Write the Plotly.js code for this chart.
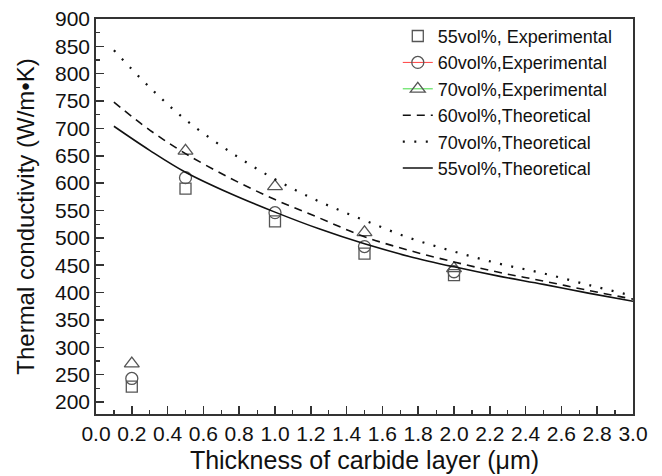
<!DOCTYPE html>
<html>
<head>
<meta charset="utf-8">
<script src="https://cdn.plot.ly/plotly-3.0.1.min.js"></script>
<style>html,body{margin:0;padding:0;background:#fff;}#chart{width:662px;height:476px;}</style>
</head>
<body>
<div id="chart"></div>
<script>
// Experimental data
var expX = [0.2, 0.5, 1.0, 1.5, 2.0];
var exp55 = [228, 590, 530, 471, 432];
var exp60 = [243, 610, 546, 484, 438];
var exp70 = [270, 659, 594, 510, 444];

// Theoretical curves
var theoX = [0.1, 0.3, 0.5, 0.75, 1.0, 1.25, 1.5, 1.75, 2.0, 2.25, 2.5, 2.75, 3.0];
var theo55 = [704, 660, 620, 581, 547, 516, 489, 466, 447, 430, 415, 399, 384];
var theo60 = [748, 697, 654, 609, 570, 536, 502, 477, 456, 437, 421, 404, 388];
var theo70 = [843, 775, 716, 657, 607, 566, 532, 500, 475, 453, 435, 414, 394];

var names = ["55vol%, Experimental", "60vol%,Experimental", "70vol%,Experimental",
             "60vol%,Theoretical", "70vol%,Theoretical", "55vol%,Theoretical"];

var mk = '#555';
var traces = [
  {x: expX, y: exp55, mode: 'markers', name: names[0], legendrank: 1,
   marker: {symbol: 'square-open', size: 11, color: mk, line: {width: 1.3}}},
  {x: expX, y: exp60, mode: 'markers', name: names[1], showlegend: false,
   marker: {symbol: 'circle-open', size: 12, color: mk, line: {width: 1.3}}},
  {x: [null], y: [null], mode: 'lines+markers', name: names[1], legendrank: 2,
   line: {color: '#ff4040', width: 1},
   marker: {symbol: 'circle-open', size: 12, color: mk, line: {width: 1.3}}},
  {x: expX, y: exp70, mode: 'markers', name: names[2], showlegend: false,
   marker: {symbol: 'triangle-up-open', size: 13, color: mk, line: {width: 1.3}}},
  {x: [null], y: [null], mode: 'lines+markers', name: names[2], legendrank: 3,
   line: {color: '#40dd40', width: 1},
   marker: {symbol: 'triangle-up-open', size: 13, color: mk, line: {width: 1.3}}},
  {x: theoX, y: theo60, mode: 'lines', name: names[3], legendrank: 4,
   line: {color: '#111', width: 1.6, dash: '8px,6px', shape: 'spline'}},
  {x: theoX, y: theo70, mode: 'lines', name: names[4], legendrank: 5,
   line: {color: '#111', width: 2.2, dash: '2px,9.5px', shape: 'spline'}},
  {x: theoX, y: theo55, mode: 'lines', name: names[5], legendrank: 6,
   line: {color: '#111', width: 1.6, shape: 'spline'}}
];

var axisCol = '#333';
var layout = {
  width: 662, height: 476,
  margin: {l: 96, r: 29, t: 19, b: 62},
  paper_bgcolor: '#fff', plot_bgcolor: '#fff',
  font: {family: '"Liberation Sans", Arial, sans-serif', color: '#111', size: 18},
  showlegend: true,
  legend: {x: 0.562, y: 1.003, xanchor: 'left', yanchor: 'top', bgcolor: 'rgba(0,0,0,0)',
           font: {size: 18}, tracegroupgap: 0, itemwidth: 30},
  xaxis: {
    range: [0, 3.0], tick0: 0, dtick: 0.2, tickformat: '.1f',
    ticks: 'inside', ticklen: 8, tickwidth: 1.5, tickcolor: axisCol,
    minor: {dtick: 0.1, ticks: 'inside', ticklen: 4, tickwidth: 1.2, tickcolor: axisCol},
    showline: true, linecolor: axisCol, linewidth: 1.8, mirror: true,
    showgrid: false, zeroline: false,
    tickfont: {size: 21},
    title: {text: 'Thickness of carbide layer (\u03bcm)', font: {size: 25}, standoff: 7}
  },
  yaxis: {
    range: [178, 900], tick0: 200, dtick: 50,
    ticks: 'inside', ticklen: 8, tickwidth: 1.5, tickcolor: axisCol,
    minor: {dtick: 25, ticks: 'inside', ticklen: 4, tickwidth: 1.2, tickcolor: axisCol},
    showline: true, linecolor: axisCol, linewidth: 1.8, mirror: true,
    showgrid: false, zeroline: false,
    tickfont: {size: 21},
    title: {text: 'Thermal conductivity (W/m\u2022K)', font: {size: 24}, standoff: 13}
  }
};

Plotly.newPlot('chart', traces, layout, {displayModeBar: false, staticPlot: true});
</script>
</body>
</html>
